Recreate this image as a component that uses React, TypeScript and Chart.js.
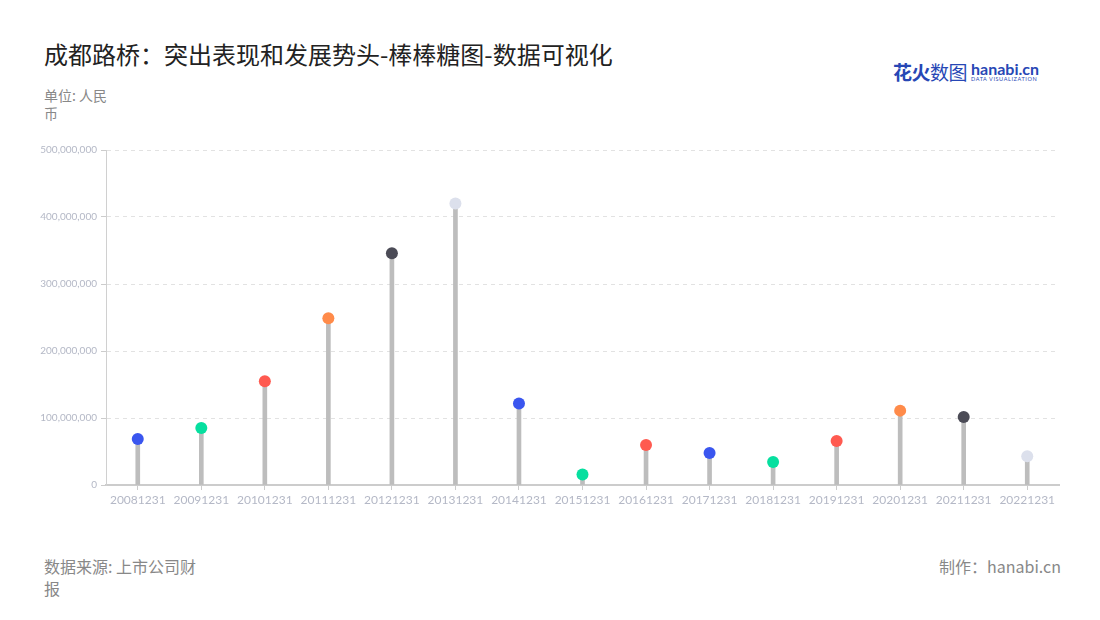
import React, { useEffect, useRef } from "react";
import { Chart, registerables } from "chart.js";

Chart.register(...registerables);

const categories = [
  "20081231", "20091231", "20101231", "20111231", "20121231",
  "20131231", "20141231", "20151231", "20161231", "20171231",
  "20181231", "20191231", "20201231", "20211231", "20221231",
];

const values = [
  68700000, 85000000, 155000000, 249000000, 346000000,
  420000000, 121600000, 15700000, 59700000, 47800000,
  34300000, 65700000, 111000000, 101500000, 43000000,
];

const dotColors = [
  "#3a56ef", "#06df9f", "#ff5a50", "#ff8b4a", "#4b4b56",
  "#dce0ec", "#3a56ef", "#06df9f", "#ff5a50", "#3a56ef",
  "#06df9f", "#ff5a50", "#ff8b4a", "#4b4b56", "#dce0ec",
];

const yTicks = [0, 100000000, 200000000, 300000000, 400000000, 500000000];

const title = "成都路桥：突出表现和发展势头-棒棒糖图-数据可视化";
const unitLabel = ["单位: 人民", "币"];
const sourceLabel = ["数据来源: 上市公司财", "报"];
const credit = "制作：hanabi.cn";

const cjk = '"Noto Sans CJK SC", "Noto Sans", sans-serif';

export default function App() {
  const ref = useRef<HTMLCanvasElement | null>(null);

  useEffect(() => {
    if (!ref.current) return;
    const chart = new Chart(ref.current, {
      type: "bar",
      data: {
        labels: categories,
        datasets: [
          {
            type: "line",
            data: values,
            showLine: false,
            pointRadius: 6,
            pointHoverRadius: 6,
            pointBorderWidth: 0,
            pointBackgroundColor: dotColors,
            pointBorderColor: dotColors,
            order: 0,
          } as any,
          {
            type: "bar",
            data: values,
            backgroundColor: "#bdbdbd",
            barThickness: 4,
            order: 1,
          },
        ],
      },
      options: {
        animation: false,
        responsive: false,
        maintainAspectRatio: false,
        layout: { padding: { top: 10, right: 41, left: 0, bottom: 0 } },
        plugins: { legend: { display: false }, tooltip: { enabled: false } },
        scales: {
          x: {
            afterFit: (s: any) => { s.height = 35; },
            grid: {
              drawOnChartArea: false,
              drawTicks: true,
              tickLength: 5,
              offset: false,
              color: "#cccccc",
            },
            border: { color: "#cccccc", width: 2 },
            ticks: {
              color: "#b4b8c6",
              font: { family: "Lato, 'Noto Sans', sans-serif", size: 12 },
              padding: 3,
              maxRotation: 0,
              autoSkip: false,
            },
          },
          y: {
            min: 0,
            max: 500000000,
            afterFit: (s: any) => { s.width = 106; },
            afterBuildTicks: (s: any) => { s.ticks = yTicks.map((v) => ({ value: v })); },
            grid: {
              color: "#e2e2e2",
              tickLength: 5,
              tickColor: "#cccccc",
              drawTicks: true,
            },
            border: { color: "#d0d0d0", width: 1, dash: [4, 4] },
            ticks: {
              color: "#b4b8c6",
              font: { family: "Lato, 'Noto Sans', sans-serif", size: 10 },
              padding: 4,
              callback: (v: any) => Number(v).toLocaleString("en-US"),
            },
          },
        },
      },
      plugins: [
        {
          id: "ySolidBorder",
          afterDraw: (c: any) => {
            const { ctx, chartArea } = c;
            ctx.save();
            ctx.strokeStyle = "#d0d0d0";
            ctx.lineWidth = 1;
            ctx.setLineDash([]);
            ctx.beginPath();
            ctx.moveTo(chartArea.left + 0.5, chartArea.top);
            ctx.lineTo(chartArea.left + 0.5, chartArea.bottom);
            ctx.stroke();
            ctx.restore();
          },
        },
      ],
    });
    return () => chart.destroy();
  }, []);

  return (
    <div style={{ position: "absolute", left: 0, top: 0, width: 1100, height: 620, background: "#fff", fontFamily: cjk }}>
      <div style={{ position: "absolute", left: 44, top: 37, fontSize: 24, color: "#222", lineHeight: "34px" }}>{title}</div>
      <div style={{ position: "absolute", left: 893, top: 58, display: "flex", alignItems: "center" }}>
        <span style={{ fontSize: 19, fontWeight: 700, color: "#2747b5", letterSpacing: -0.5 }}>花火</span>
        <span style={{ fontSize: 19, fontWeight: 400, color: "#2747b5", letterSpacing: -0.5 }}>数图</span>
        <span style={{ display: "flex", flexDirection: "column", marginLeft: 4, lineHeight: 1 }}>
          <span style={{ fontSize: 16, fontWeight: 700, color: "#2747b5", fontFamily: "Lato, sans-serif" }}>hanabi.cn</span>
          <span style={{ fontSize: 5.5, color: "#2747b5", fontFamily: "Lato, sans-serif", letterSpacing: 0.6 }}>DATA VISUALIZATION</span>
        </span>
      </div>
      <div style={{ position: "absolute", left: 44, top: 86, fontSize: 14, color: "#888", lineHeight: "18px" }}>
        {unitLabel.map((t, i) => <div key={i}>{t}</div>)}
      </div>
      <div style={{ position: "absolute", left: 0, top: 140 }}>
        <canvas ref={ref} width={1100} height={380} style={{ width: 1100, height: 380, display: "block" }} />
      </div>
      <div style={{ position: "absolute", left: 44, top: 555, fontSize: 16, color: "#888", lineHeight: "22px" }}>
        {sourceLabel.map((t, i) => <div key={i}>{t}</div>)}
      </div>
      <div style={{ position: "absolute", right: 39, top: 555, fontSize: 16, color: "#888", lineHeight: "22px" }}>{credit}</div>
    </div>
  );
}
